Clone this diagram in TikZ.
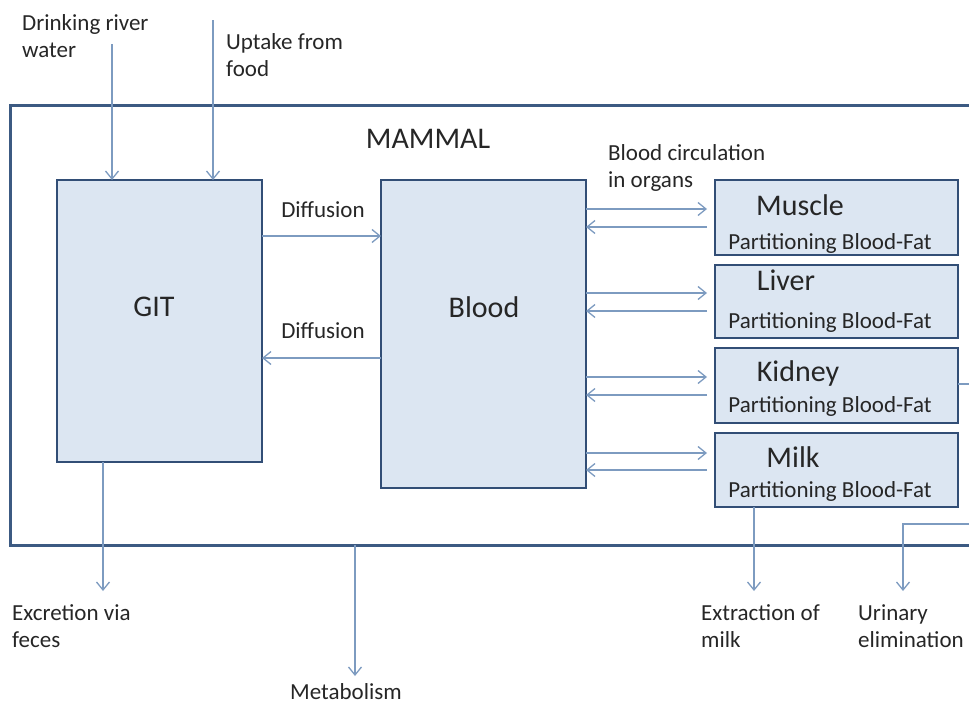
\documentclass[tikz,border=0pt]{standalone}
\usepackage{fontspec}
\setmainfont{Carlito}
\usetikzlibrary{arrows.meta}
\definecolor{arrc}{RGB}{125,155,192}
\definecolor{boxline}{RGB}{50,78,118}
\definecolor{boxfill}{RGB}{220,230,242}
\definecolor{mamline}{RGB}{60,90,130}
\begin{document}
\begin{tikzpicture}[x=1pt,y=-1pt,
  box/.style={draw=boxline, line width=2.8pt, fill=boxfill, inner sep=0pt, outer sep=0pt},
  arr/.style={draw=arrc, line width=1.3pt, -{Straight Barb[length=8pt,width=13pt,line width=1.3pt]}},
  plain/.style={draw=arrc, line width=1.3pt},
  small/.style={font=\fontsize{23}{27}\selectfont, align=left, inner sep=0pt, text=black!85},
  big/.style={font=\fontsize{30}{34}\selectfont, inner sep=0pt, text=black!85}]
\useasboundingbox (0,0) rectangle (969,704);
\clip (0,0) rectangle (969,704);
% mammal container
\node[draw=mamline, line width=3pt, inner sep=0pt, outer sep=0pt, minimum width=980pt, minimum height=440pt] (mammal) at (500,325) {};
% boxes
\node[box, minimum width=205pt, minimum height=282pt] (git) at (159.5,321) {};
\node[box, minimum width=205pt, minimum height=308pt] (blood) at (483.5,334) {};
\node[box, minimum width=243pt, minimum height=75pt] (muscle) at (836.5,217.5) {};
\node[box, minimum width=243pt, minimum height=73pt] (liver) at (836.5,301.5) {};
\node[box, minimum width=243pt, minimum height=75pt] (kidney) at (836.5,385.5) {};
\node[box, minimum width=243pt, minimum height=74pt] (milk) at (836.5,470) {};
% texts
\node[big] (mamt) at (428,139) {MAMMAL};
\node[big] (gitt) at (154,307) {GIT};
\node[big] (bloodt) at (484,307) {Blood};
\node[big] (musct) at (800,205) {Muscle};
\node[big] (livt) at (786,280) {Liver};
\node[big] (kidt) at (798,373) {Kidney};
\node[big] (milkt) at (793,457) {Milk};
\node[small] (p1) at (830,243) {Partitioning Blood-Fat};
\node[small] (p2) at (830,322) {Partitioning Blood-Fat};
\node[small] (p3) at (830,406) {Partitioning Blood-Fat};
\node[small] (p4) at (830,491) {Partitioning Blood-Fat};
\node[small, anchor=west] (drink) at (22,36) {Drinking river\\water};
\node[small, anchor=west] (uptake) at (226,55) {Uptake from\\food};
\node[small, anchor=west] (circ) at (608,168) {Blood circulation\\in organs};
\node[small] (dif1) at (323,210) {Diffusion};
\node[small] (dif2) at (323,331) {Diffusion};
\node[small, anchor=west] (exc) at (12,626) {Excretion via\\feces};
\node[small] (metab) at (346,692) {Metabolism};
\node[small, anchor=west] (extr) at (701,626) {Extraction of\\milk};
\node[small, anchor=west] (urin) at (858,626) {Urinary\\elimination};
% free ends
\coordinate (dstart) at (112,44);
\coordinate (ustart) at (213,20);
\coordinate (excend) at (103,591);
\coordinate (metend) at (355,676);
\coordinate (extend) at (754,591);
\coordinate (urend) at (903,591);
\coordinate (urstart) at (975,524);
\coordinate (kidend) at (975,384);
% inputs
\draw[arr] (dstart) -- (dstart |- git.north);
\draw[arr] (ustart) -- (ustart |- git.north);
% diffusion
\draw[arr] (git.east |- 0,236) -- (blood.west |- 0,236);
\draw[arr] (blood.west |- 0,358) -- (git.east |- 0,358);
% organs
\foreach \o/\a/\b in {muscle/209/227, liver/293/311, kidney/377/395, milk/453/470}{
  \draw[arr, shorten >=8pt] (blood.east |- 0,\a) -- (\o.west |- 0,\a);
  \draw[arr, shorten <=8pt] (\o.west |- 0,\b) -- (blood.east |- 0,\b);
}
% outputs
\draw[arr] (git.south -| excend) -- (excend);
\draw[arr] (mammal.south -| metend) -- (metend);
\draw[arr] (milk.south -| extend) -- (extend);
\draw[plain] (kidney.east |- kidend) -- (kidend);
\draw[arr] (urstart) -- (urstart -| urend) -- (urend);
\end{tikzpicture}
\end{document}
